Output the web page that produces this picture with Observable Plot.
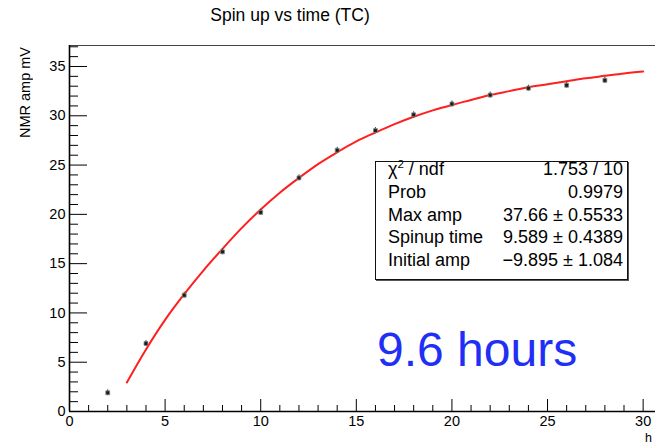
<!DOCTYPE html>
<html><head><meta charset="utf-8">
<script src="https://cdn.jsdelivr.net/npm/d3@7"></script>
<script src="https://cdn.jsdelivr.net/npm/@observablehq/plot@0.6"></script>
<style>
html,body{margin:0;padding:0;background:#fff;overflow:hidden;}
#wrap{position:relative;width:655px;height:445px;overflow:hidden;font-family:"Liberation Sans",Arial,Helvetica,sans-serif;color:#000;}
#wrap svg{position:absolute;left:0;top:0;max-width:none !important;width:700px !important;height:445px !important;}
.title{position:absolute;left:290px;top:5px;transform:translateX(-50%);font-size:17.5px;white-space:nowrap;}
.ylab{position:absolute;left:18px;top:47px;writing-mode:vertical-rl;transform:rotate(180deg);font-size:14.5px;line-height:15px;white-space:nowrap;}
.xlab{position:absolute;left:645px;top:432px;font-size:12.5px;line-height:12.5px;}
.stats{position:absolute;left:375px;top:161px;width:253px;height:119px;box-sizing:border-box;border:1px solid #111;background:#fff;box-shadow:1px 1px 0 #555;}
.rows{position:absolute;left:12px;right:4px;top:-4px;font-size:18px;line-height:22.8px;}
.row{display:flex;justify-content:space-between;white-space:nowrap;}
.row sup{font-size:11.5px;line-height:0;}
.note{position:absolute;left:377px;top:322px;font-size:48px;color:#1f2ff5;white-space:nowrap;line-height:56px;}
</style></head><body><div id="wrap"></div>
<script>
// measured data points (time in h, NMR amplitude in mV)
const times = [2, 4, 6, 8, 10, 12, 14, 16, 18, 20, 22, 24, 26, 28];
const amps  = [1.9, 6.9, 11.8, 16.2, 20.2, 23.7, 26.5, 28.5, 30.1, 31.2, 32.1, 32.8, 33.1, 33.6];
const errs  = [0.3, 0.3, 0.3, 0.3, 0.3, 0.3, 0.3, 0.3, 0.3, 0.3, 0.3, 0.3, 0.3, 0.3];
// fitted curve
const fitT = [3, 4, 5, 6, 7, 8, 9, 10, 11, 12, 13, 14, 15, 16, 17, 18, 19, 20, 21, 22, 23, 24, 25, 26, 27, 28, 29, 30];
const fitY = [2.95, 6.3, 9.3, 11.9, 14.3, 16.5, 18.6, 20.5, 22.2, 23.7, 25.1, 26.3, 27.4, 28.3, 29.15, 29.9, 30.55, 31.1, 31.6, 32.1, 32.5, 32.9, 33.2, 33.5, 33.8, 34.05, 34.3, 34.5];
// axis ticks
const xMajor = [0, 5, 10, 15, 20, 25, 30];
const yMajor = [0, 5, 10, 15, 20, 25, 30, 35];
const xMinor = d3.range(0, 34).filter(v => v % 5 !== 0);
const yMinor = d3.range(0, 38).filter(v => v % 5 !== 0);
// texts
const titleText = "Spin up vs time (TC)";
const yLabel = "NMR amp mV";
const xLabel = "h";
const statLabels = ["χ<sup>2</sup> / ndf", "Prob", "Max amp", "Spinup time", "Initial amp"];
const statValues = ["1.753 / 10", "0.9979", "37.66 ± 0.5533", "9.589 ± 0.4389", "\u22129.895 ± 1.084"];
const noteText = "9.6 hours";

const points = times.map((t, i) => ({t, a: amps[i], e: errs[i]}));
const fit = fitT.map((t, i) => ({t, y: fitY[i]}));

const W = 700, H = 445, mL = 69, mR = 0, mT = 45, mB = 34;
const fw = W - mL - mR, fh = H - mT - mB;

const chart = Plot.plot({
  width: W, height: H,
  marginLeft: mL, marginRight: mR, marginTop: mT, marginBottom: mB,
  style: {fontFamily: "'Liberation Sans', Arial, sans-serif", background: "transparent", maxWidth: "none"},
  x: {domain: [0, 33], axis: null, label: null},
  y: {domain: [0, 37.13], axis: null, label: null},
  marks: [
    Plot.frame({stroke: "#444", strokeWidth: 1}),
    Plot.line(fit, {x: "t", y: "y", stroke: "#ff1f1f", strokeWidth: 2, curve: "monotone-x"}),
    Plot.ruleX(points, {x: "t", y1: d => d.a - d.e, y2: d => d.a + d.e, stroke: "#333", strokeWidth: 1}),
    Plot.dot(points, {x: "t", y: "a", symbol: "square", r: 2.2, fill: "#1a1a1a", stroke: "#888", strokeWidth: 0.8}),
    Plot.tickX(xMajor, {x: d => d, stroke: "#000", strokeWidth: 1, insetTop: fh - 12}),
    Plot.tickX(xMinor, {x: d => d, stroke: "#000", strokeWidth: 1, insetTop: fh - 6}),
    Plot.tickY(yMajor, {y: d => d, stroke: "#000", strokeWidth: 1, insetRight: fw - 18}),
    Plot.tickY(yMinor, {y: d => d, stroke: "#000", strokeWidth: 1, insetRight: fw - 9}),
    Plot.ruleY([0], {stroke: "#000", strokeWidth: 1.6}),
    Plot.ruleX([0], {stroke: "#000", strokeWidth: 1.6}),
    Plot.axisX(xMajor, {tickSize: 0, tickPadding: 4, fontSize: 14.5, fill: "#000", label: null}),
    Plot.axisY(yMajor, {tickSize: 0, tickPadding: 4, fontSize: 14.5, fill: "#000", label: null})
  ]
});

const wrap = document.getElementById("wrap");
wrap.appendChild(chart);

function add(cls, html) {
  const d = document.createElement("div");
  d.className = cls; d.innerHTML = html; wrap.appendChild(d); return d;
}
add("title", titleText);
add("ylab", yLabel);
add("xlab", xLabel);
const box = add("stats", "");
const rows = document.createElement("div");
rows.className = "rows";
statLabels.forEach((l, i) => {
  const r = document.createElement("div");
  r.className = "row";
  r.innerHTML = `<span>${l}</span><span>${statValues[i]}</span>`;
  rows.appendChild(r);
});
box.appendChild(rows);
add("note", noteText);
</script></body></html>
